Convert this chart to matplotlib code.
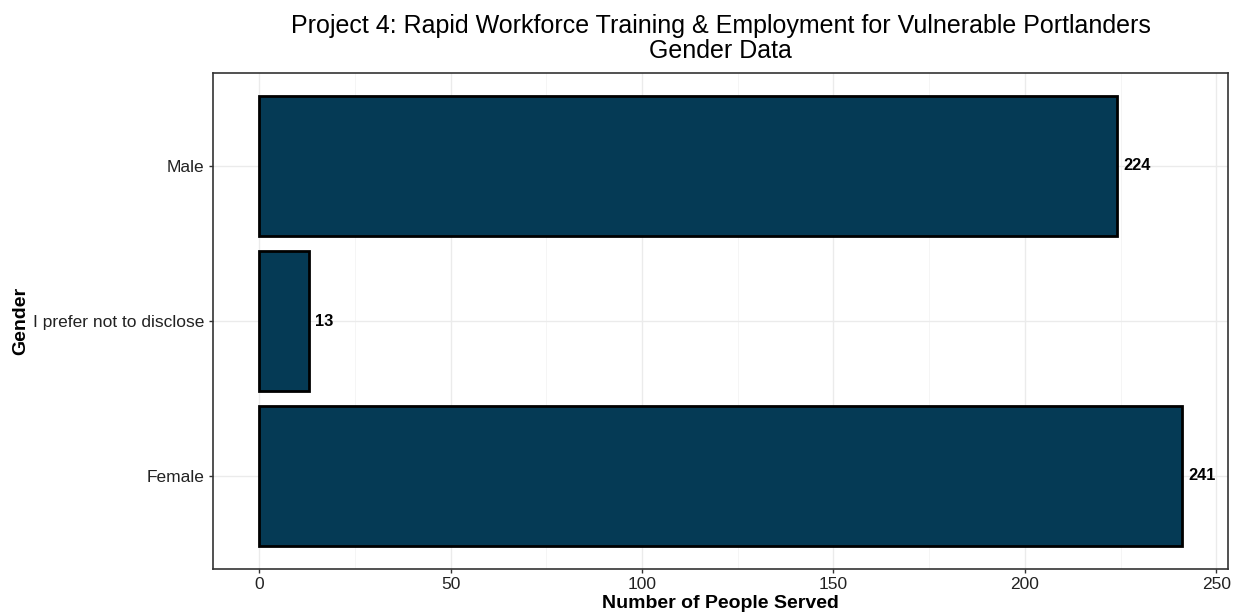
import matplotlib
matplotlib.use("Agg")
import matplotlib.pyplot as plt
from matplotlib.ticker import MultipleLocator

categories = ["Female", "I prefer not to disclose", "Male"]
values = [241, 13, 224]
xticks = [0, 50, 100, 150, 200, 250]

plt.rcParams['font.family'] = ['Liberation Sans', 'DejaVu Sans']

fig = plt.figure(figsize=(12.43, 6.16), dpi=100)
ax = fig.add_axes([213/1243, 47/616, (1228-213)/1243, (569-73)/616])

ypos = list(range(1, len(categories) + 1))
ax.barh(ypos, values, height=0.9, color="#053a55", edgecolor="black", linewidth=2, zorder=3)
for y, v in zip(ypos, values):
    ax.text(v + 1.6, y, str(v), va="center", ha="left", fontsize=11.8, fontweight="bold", zorder=4)

ax.set_xlim(-12.05, 253.05)
ax.set_ylim(0.4, 3.6)
ax.set_xticks(xticks)
ax.xaxis.set_minor_locator(MultipleLocator(25))
ax.set_yticks(ypos)
ax.set_yticklabels(categories)
ax.grid(True, which="major", color="#ebebeb", linewidth=1, zorder=0)
ax.grid(True, which="minor", axis="x", color="#f4f4f4", linewidth=0.6, zorder=0)
ax.tick_params(axis="both", which="major", length=3, width=1, color="#333333", labelsize=12.5, labelcolor="#222222", pad=3)
ax.tick_params(axis="x", which="minor", length=0)
for s in ax.spines.values():
    s.set_color("#333333")
    s.set_linewidth(1.2)

ax.set_xlabel("Number of People Served", fontsize=14, fontweight="bold", labelpad=2)
ax.set_ylabel("Gender", fontsize=14, fontweight="bold", labelpad=3)
fig.suptitle("Project 4: Rapid Workforce Training & Employment for Vulnerable Portlanders\nGender Data",
             x=(213+1228)/2/1243, y=0.978, fontsize=18, linespacing=1.1)

fig.savefig("out.png", dpi=100)
